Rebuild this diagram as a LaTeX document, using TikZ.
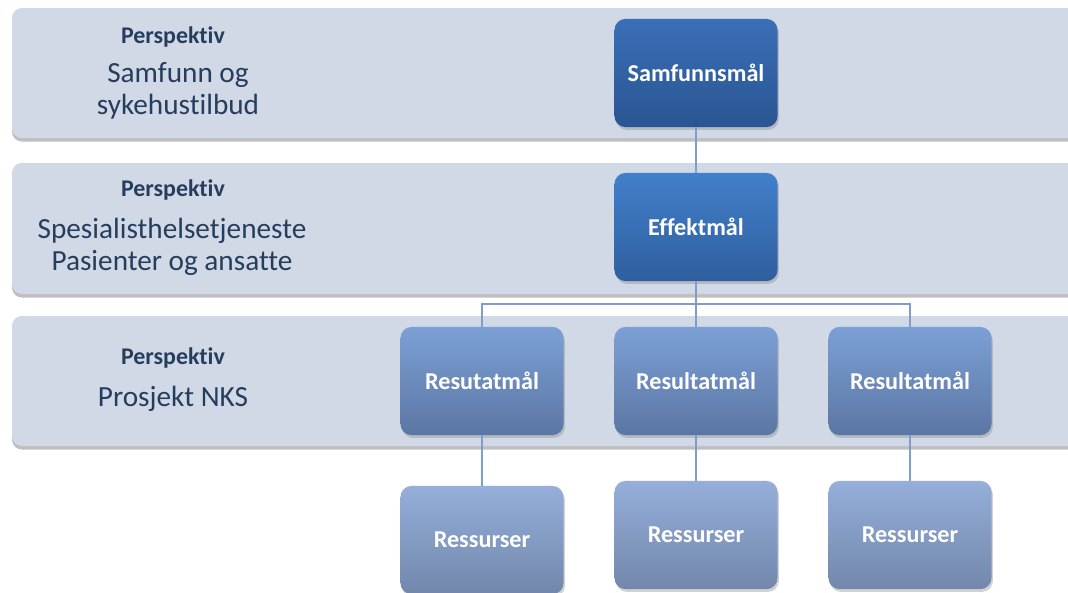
\documentclass[tikz,border=0pt]{standalone}
\usepackage{fontspec}
\setmainfont{Carlito}[Ligatures={NoCommon}]
\usetikzlibrary{shadows}

\definecolor{bandFill}{HTML}{D1D8E6}
\definecolor{navyText}{HTML}{263E5E}
\definecolor{linkBlue}{HTML}{7F9CCB}
\definecolor{darkTop}{HTML}{3A6FB7}
\definecolor{darkBot}{HTML}{2A5592}
\definecolor{effTop}{HTML}{4280CB}
\definecolor{effBot}{HTML}{2F5E9E}
\definecolor{resTop}{HTML}{7CA0D6}
\definecolor{resBot}{HTML}{5B76A3}
\definecolor{ressTop}{HTML}{95AFDA}
\definecolor{ressBot}{HTML}{7287AB}

\tikzset{
  band/.style={fill=bandFill, rounded corners=7pt,
    drop shadow={shadow xshift=0pt, shadow yshift=-2.5pt, opacity=0.5}},
  persp/.style={text=navyText, font=\fontsize{17}{20}\selectfont\bfseries},
  perspText/.style={text=navyText, align=center, font=\fontsize{20.8}{22.5}\selectfont},
  goal/.style={rectangle, rounded corners=8pt, minimum width=116pt, minimum height=77pt,
    text=white, font=\fontsize{17.2}{20}\selectfont\bfseries,
    drop shadow={shadow xshift=1pt, shadow yshift=-2pt, opacity=0.35}},
  topGoal/.style={goal, top color=darkTop, bottom color=darkBot},
  effGoal/.style={goal, top color=effTop, bottom color=effBot},
  resGoal/.style={goal, top color=resTop, bottom color=resBot},
  ressGoal/.style={goal, top color=ressTop, bottom color=ressBot},
  link/.style={draw=linkBlue, line width=1pt}
}

\begin{document}
\begin{tikzpicture}[x=0.025cm, y=-0.025cm]
        \clip (0,0) rectangle (1068,593);
        \fill[white] (0,0) rectangle (1068,593);

        % Perspective bands
        \fill[band] (12,8) rectangle (1090,138);
        \fill[band] (12,163) rectangle (1090,294);
        \fill[band] (12,316) rectangle (1090,446);

        % Band texts
        \node[persp] (p1) at (173,37) {Perspektiv};
        \node[perspText] (t1) at (178,91) {Samfunn og\\sykehustilbud};
        \node[persp] (p2) at (173,190) {Perspektiv};
        \node[perspText] (t2) at (172,247) {Spesialisthelsetjeneste\\Pasienter og ansatte};
        \node[persp] (p3) at (173,358) {Perspektiv};
        \node[perspText] (t3) at (173,399) {Prosjekt NKS};

        % Goal boxes
        \node[topGoal] (samf) at (696,73) {Samfunnsmål};
        \node[effGoal] (effekt) at (696,227) {Effektmål};
        \node[resGoal] (res1) at (482,381) {Resutatmål};
        \node[resGoal] (res2) at (696,381) {Resultatmål};
        \node[resGoal] (res3) at (910,381) {Resultatmål};
        \node[ressGoal] (ress1) at (482,540) {Ressurser};
        \node[ressGoal] (ress2) at (696,535) {Ressurser};
        \node[ressGoal] (ress3) at (910,535) {Ressurser};

        % Connectors
        \coordinate (bar) at (696,304);
        \draw[link] (samf.south) -- (effekt.north);
        \draw[link] (effekt.south) -- (bar);
        \draw[link] (bar) -| (res1.north);
        \draw[link] (bar) -- (res2.north);
        \draw[link] (bar) -| (res3.north);
        \draw[link] (res1.south) -- (ress1.north);
        \draw[link] (res2.south) -- (ress2.north);
        \draw[link] (res3.south) -- (ress3.north);
\end{tikzpicture}
\end{document}
